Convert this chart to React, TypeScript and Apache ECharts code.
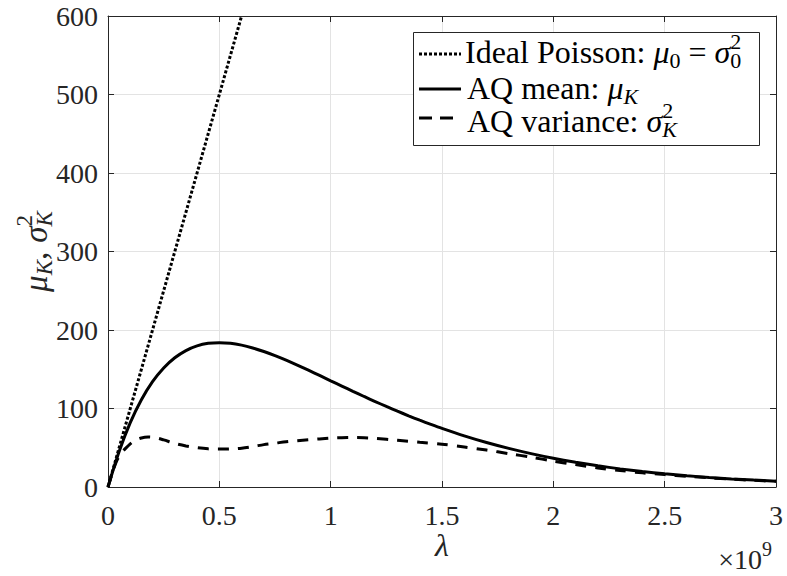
import React, { useEffect, useRef } from 'react';
import * as echarts from 'echarts';

// λ in units of 1e9
const poissonLambda = [0, 0.6];
const poissonValues = [0, 600];

const meanLambda = [
  0, 0.05, 0.1, 0.15, 0.2, 0.25, 0.3, 0.35, 0.4, 0.45, 0.5, 0.55, 0.6, 0.65, 0.7, 0.75,
  0.8, 0.85, 0.9, 0.95, 1.0, 1.05, 1.1, 1.15, 1.2, 1.25, 1.3, 1.35, 1.4, 1.45, 1.5,
  1.6, 1.7, 1.8, 1.9, 2.0, 2.1, 2.2, 2.3, 2.4, 2.5, 2.6, 2.7, 2.8, 2.9, 3.0,
];
const meanValues = [
  0, 45.2, 81.9, 111.1, 134.1, 151.6, 164.6, 173.8, 179.7, 183.0, 183.9, 183.1, 180.7, 177.1, 172.6, 167.4,
  161.5, 155.3, 148.8, 142.1, 135.3, 128.6, 121.9, 115.3, 108.9, 102.6, 96.6, 90.7, 85.1, 79.8, 74.7,
  65.2, 56.7, 49.2, 42.5, 36.6, 31.5, 27.0, 23.1, 19.7, 16.8, 14.3, 12.2, 10.3, 8.8, 7.4,
];

const varLambda = [
  0, 0.02, 0.04, 0.06, 0.08, 0.1, 0.12, 0.15, 0.18, 0.21, 0.25, 0.3, 0.35, 0.4, 0.45, 0.5,
  0.55, 0.6, 0.65, 0.7, 0.75, 0.8, 0.85, 0.9, 0.95, 1.0, 1.05, 1.1, 1.15, 1.2, 1.3, 1.4,
  1.5, 1.6, 1.7, 1.8, 1.9, 2.0, 2.1, 2.2, 2.3, 2.4, 2.5, 2.6, 2.7, 2.8, 2.9, 3.0,
];
const varValues = [
  0, 18.5, 34, 43, 49.5, 55, 59, 62.5, 63.7, 63, 60, 55.5, 52.3, 50, 48.6, 48.3,
  48.5, 49.5, 51.5, 54, 55.8, 57.7, 59, 60.2, 61.3, 62.3, 62.8, 63, 62.8, 62, 59.5, 57,
  54.5, 51, 47, 42.5, 38, 33, 28.5, 24.3, 21, 18, 15.8, 13.6, 11.7, 10, 8.5, 7.2,
];

const X_MIN = 0, X_MAX = 3, X_INT = 0.5;
const Y_MIN = 0, Y_MAX = 600, Y_INT = 100;

const FONT = 'Liberation Serif';
const AX = '#262626';

type Tok = { t: string; size: number; italic?: boolean; dy?: number; stack?: boolean; gap?: number };

let measureCtx: CanvasRenderingContext2D | null = null;
function tw(t: string, size: number, italic?: boolean) {
  if (!measureCtx) measureCtx = document.createElement('canvas').getContext('2d');
  if (!measureCtx) return t.length * size * 0.5;
  measureCtx.font = `${italic ? 'italic ' : ''}${size}px "Liberation Serif"`;
  return measureCtx.measureText(t).width;
}

function layout(tokens: Tok[], x0: number, yMid: number, color: string, z = 12) {
  const els: any[] = [];
  let x = x0;
  let prevStart = x0;
  let prevEnd = x0;
  for (const tk of tokens) {
    const w = tw(tk.t, tk.size, tk.italic);
    const start = tk.stack ? prevStart : x + (tk.gap || 0);
    const style: any = {
      text: tk.t,
      fontSize: tk.size,
      fontFamily: FONT,
      fill: color,
      verticalAlign: 'middle',
    };
    if (tk.italic) style.fontStyle = 'italic';
    els.push({ type: 'text', x: start, y: yMid + (tk.dy || 0), z, silent: true, style });
    const end = start + w;
    if (tk.stack) {
      x = Math.max(prevEnd, end);
      prevEnd = x;
    } else {
      x = end;
      prevEnd = end;
    }
    prevStart = start;
  }
  return { els, width: x - x0 };
}

export default function App() {
  const ref = useRef<HTMLDivElement>(null);
  useEffect(() => {
    if (!ref.current) return;
    const chart = echarts.init(ref.current, null, { renderer: 'svg' });

    const S = 32, s = 22;
    const SUB = 8, SUP = -11;
    const row1 = layout(
      [
        { t: 'Ideal Poisson: ', size: S },
        { t: 'μ', size: S, italic: true },
        { t: '0', size: s, dy: SUB },
        { t: ' = ', size: S },
        { t: 'σ', size: S, italic: true },
        { t: '2', size: s, dy: SUP },
        { t: '0', size: s, dy: SUB, stack: true },
      ],
      465, 52, '#000'
    );
    const row2 = layout(
      [
        { t: 'AQ mean: ', size: S },
        { t: 'μ', size: S, italic: true },
        { t: 'K', size: s, italic: true, dy: SUB },
      ],
      467, 88, '#000'
    );
    const row3 = layout(
      [
        { t: 'AQ variance: ', size: S },
        { t: 'σ', size: S, italic: true },
        { t: '2', size: s, dy: SUP },
        { t: 'K', size: s, italic: true, dy: SUB, stack: true },
      ],
      467, 121, '#000'
    );

    const YS = 33, ys = 23;
    const ylabTokens: Tok[] = [
      { t: 'μ', size: YS, italic: true },
      { t: 'K', size: ys, italic: true, dy: 8 },
      { t: ',', size: YS },
      { t: 'σ', size: YS, italic: true, gap: 9 },
      { t: '2', size: ys, dy: -12 },
      { t: 'K', size: ys, italic: true, dy: 8, stack: true },
    ];
    const ylab = layout(ylabTokens, 0, 0, AX);

    const multTokens: Tok[] = [
      { t: '×10', size: 28 },
      { t: '9', size: 20, dy: -10 },
    ];
    const multW = layout(multTokens, 0, 0, AX).width;
    const mult = layout(multTokens, 772 - multW, 559, AX);

    const lamW = tw('λ', 32, true);
    const lam = layout([{ t: 'λ', size: 32, italic: true }], 442 - lamW / 2, 545, AX);

    const axisCommon = {
      type: 'value',
      axisLine: { show: true, onZero: false, lineStyle: { color: AX, width: 1 } },
      axisTick: { show: true, inside: true, length: 6, lineStyle: { color: AX, width: 1 } },
    };

    const option: any = {
      animation: false,
      backgroundColor: '#ffffff',
      textStyle: { fontFamily: FONT },
      grid: { left: 108, right: 11, top: 16, bottom: 89 },
      xAxis: [
        {
          ...axisCommon,
          position: 'bottom',
          min: X_MIN, max: X_MAX, interval: X_INT,
          axisLabel: { margin: 14, fontSize: 28, fontFamily: FONT, color: AX },
          splitLine: { show: true, lineStyle: { color: '#e3e3e3', width: 1 } },
        },
        {
          ...axisCommon,
          position: 'top',
          min: X_MIN, max: X_MAX, interval: X_INT,
          axisLabel: { show: false },
          splitLine: { show: false },
        },
      ],
      yAxis: [
        {
          ...axisCommon,
          position: 'left',
          min: Y_MIN, max: Y_MAX, interval: Y_INT,
          axisLabel: { margin: 10, fontSize: 28, fontFamily: FONT, color: AX },
          splitLine: { show: true, lineStyle: { color: '#e3e3e3', width: 1 } },
        },
        {
          ...axisCommon,
          position: 'right',
          min: Y_MIN, max: Y_MAX, interval: Y_INT,
          axisLabel: { show: false },
          splitLine: { show: false },
        },
      ],
      series: [
        {
          name: 'Ideal Poisson',
          type: 'line',
          xAxisIndex: 0, yAxisIndex: 0,
          data: poissonLambda.map((x, i) => [x, poissonValues[i]]),
          symbol: 'none', showSymbol: false,
          lineStyle: { color: '#000', width: 3, type: [3, 2] },
          clip: true,
          z: 3,
        },
        {
          name: 'AQ mean',
          type: 'line',
          xAxisIndex: 0, yAxisIndex: 0,
          data: meanLambda.map((x, i) => [x, meanValues[i]]),
          symbol: 'none', showSymbol: false,
          smooth: 0.3,
          lineStyle: { color: '#000', width: 3, type: 'solid' },
          clip: true,
          z: 3,
        },
        {
          name: 'AQ variance',
          type: 'line',
          xAxisIndex: 0, yAxisIndex: 0,
          data: varLambda.map((x, i) => [x, varValues[i]]),
          symbol: 'none', showSymbol: false,
          smooth: 0.3,
          lineStyle: { color: '#000', width: 3, type: [11, 9] },
          clip: true,
          z: 3,
        },
      ],
      graphic: [
        {
          type: 'rect',
          z: 10,
          shape: { x: 413.5, y: 32.5, width: 346, height: 113 },
          style: { fill: '#fff', stroke: AX, lineWidth: 1 },
        },
        {
          type: 'line', z: 11,
          shape: { x1: 419, y1: 54, x2: 461, y2: 54 },
          style: { stroke: '#000', lineWidth: 3, lineDash: [3, 2] },
        },
        {
          type: 'line', z: 11,
          shape: { x1: 419, y1: 89, x2: 461, y2: 89 },
          style: { stroke: '#000', lineWidth: 3 },
        },
        {
          type: 'line', z: 11,
          shape: { x1: 419, y1: 118, x2: 461, y2: 118 },
          style: { stroke: '#000', lineWidth: 3, lineDash: [13, 8] },
        },
        ...row1.els, ...row2.els, ...row3.els,
        {
          type: 'group',
          x: 36,
          y: 251.5 + ylab.width / 2,
          rotation: Math.PI / 2,
          children: ylab.els,
        },
        ...mult.els, ...lam.els,
      ],
    };

    chart.setOption(option);
    return () => chart.dispose();
  }, []);

  return (
    <div
      ref={ref}
      style={{ position: 'fixed', left: 0, top: 0, width: 787, height: 576, background: '#fff' }}
    />
  );
}
